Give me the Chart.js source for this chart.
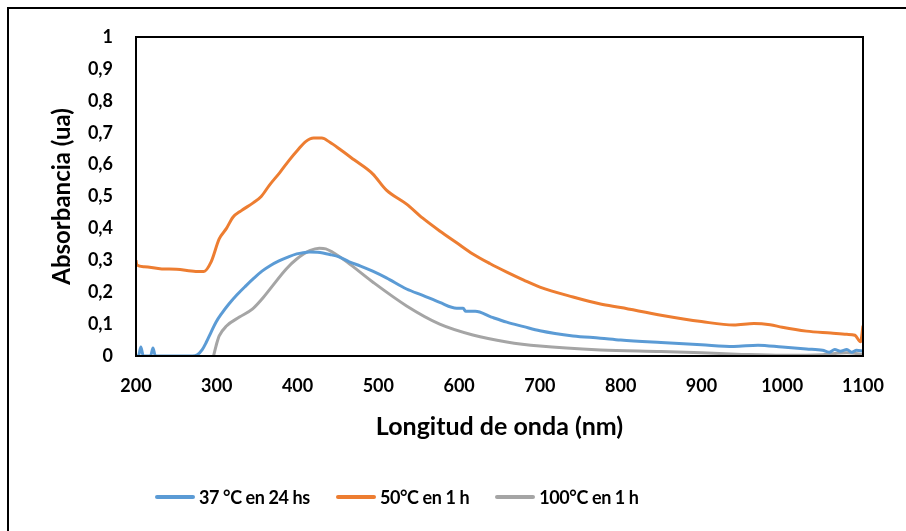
<!DOCTYPE html>
<html>
<head>
<meta charset="utf-8">
<script src="https://cdn.jsdelivr.net/npm/chart.js@4.4.1/dist/chart.umd.min.js"></script>
<style>
    html, body { margin: 0; padding: 0; background: #fff; overflow: hidden; }
    #wrap { position: relative; width: 906px; height: 531px; }
    #frame { position: absolute; left: 7px; top: 7px; width: 1000px; height: 1000px; border: 2px solid #000; box-sizing: border-box; }
    #chart { position: absolute; left: 0; top: 0; }
    #legend { position: absolute; left: 155px; top: 486px; display: flex; align-items: center; font: bold 18px Lato, sans-serif; letter-spacing: -0.4px; color: #000; }
    .item { display: flex; align-items: center; margin-right: 26px; }
    .swatch { width: 40px; height: 4px; border-radius: 2px; margin-right: 4px; }
</style>
</head>
<body>
<div id="wrap">
    <div id="frame"></div>
    <canvas id="chart" width="906" height="531"></canvas>
    <div id="legend"></div>
</div>
<script>
// Series names and colours
const seriesNames = ['37 °C en 24 hs', '50°C en 1 h', '100°C en 1 h'];
const seriesColors = ['#5B9BD5', '#ED7D31', '#A5A5A5'];

// 37 °C en 24 hs
const wl37 = [200, 203, 206, 209, 212, 218, 221, 224, 230, 250, 270, 276, 282, 287, 293, 299, 306, 315, 325, 336, 346, 356, 366, 377, 388, 399, 407, 415, 425, 440, 452, 464, 478, 493, 510, 535, 555, 576, 597, 605, 608, 620, 640, 659, 680, 700, 741, 775, 800, 850, 900, 940, 970, 1000, 1030, 1050, 1058, 1065, 1072, 1080, 1086, 1092, 1100];
const abs37 = [0, 0, 0.028, 0, 0, 0, 0.025, 0, 0, 0, 0, 0.004, 0.02, 0.043, 0.075, 0.106, 0.133, 0.163, 0.192, 0.22, 0.244, 0.266, 0.283, 0.298, 0.31, 0.32, 0.324, 0.326, 0.325, 0.318, 0.31, 0.295, 0.282, 0.266, 0.245, 0.21, 0.19, 0.168, 0.15, 0.15, 0.14, 0.14, 0.122, 0.106, 0.092, 0.079, 0.063, 0.056, 0.05, 0.042, 0.035, 0.03, 0.034, 0.028, 0.022, 0.018, 0.012, 0.02, 0.015, 0.02, 0.012, 0.018, 0.015];

// 50°C en 1 h
const wl50 = [200, 201, 210, 232, 250, 274, 284, 293, 303, 312, 320, 330, 345, 355, 365, 378, 390, 400, 410, 420, 430, 440, 452, 470, 493, 510, 535, 555, 576, 597, 617, 638, 659, 680, 700, 741, 775, 800, 850, 900, 940, 965, 985, 1000, 1030, 1060, 1080, 1090, 1097, 1100];
const abs50 = [0.3, 0.285, 0.28, 0.273, 0.272, 0.265, 0.265, 0.295, 0.367, 0.4, 0.435, 0.455, 0.48, 0.5, 0.535, 0.575, 0.615, 0.645, 0.672, 0.683, 0.683, 0.67, 0.649, 0.615, 0.571, 0.52, 0.476, 0.432, 0.392, 0.355, 0.32, 0.29, 0.263, 0.238, 0.216, 0.185, 0.163, 0.152, 0.128, 0.108, 0.097, 0.102, 0.098, 0.09, 0.078, 0.072, 0.068, 0.065, 0.045, 0.095];

// 100°C en 1 h
const wl100 = [296, 300, 303, 312, 328, 344, 356, 369, 386, 399, 415, 427, 435, 443, 461, 493, 535, 576, 617, 659, 700, 775, 850, 900, 950, 1000, 1050, 1080, 1100];
const abs100 = [0, 0.04, 0.063, 0.094, 0.122, 0.147, 0.179, 0.22, 0.273, 0.304, 0.33, 0.338, 0.336, 0.326, 0.295, 0.232, 0.157, 0.1, 0.066, 0.044, 0.031, 0.019, 0.014, 0.01, 0.005, 0.002, 0.004, 0.01, 0.005];

// Axis ticks
const xTickLabels = ['200', '300', '400', '500', '600', '700', '800', '900', '1000', '1100'];
const yTickLabels = ['0', '0,1', '0,2', '0,3', '0,4', '0,5', '0,6', '0,7', '0,8', '0,9', '1'];

const tickFont = { family: 'Lato, sans-serif', size: 18, weight: 'bold', lineHeight: 1.2 };
const yTitleFont = { family: 'Lato, sans-serif', size: 24, weight: 'bold', lineHeight: 1.2 };
const xTitleFont = { family: 'Lato, sans-serif', size: 25, weight: 'bold', lineHeight: 1.2 };

function toPoints(xs, ys) {
    return xs.map((x, i) => ({ x: x, y: ys[i] }));
}

const allX = [wl37, wl50, wl100];
const allY = [abs37, abs50, abs100];

const datasets = seriesNames.map((name, i) => ({
    label: name,
    data: toPoints(allX[i], allY[i]),
    borderColor: seriesColors[i],
    backgroundColor: seriesColors[i],
    borderWidth: 3,
    pointRadius: 0,
    fill: false,
    cubicInterpolationMode: 'monotone'
}));

// plot area frame
const frameBox = {
    id: 'frameBox',
    afterDatasetsDraw(chart) {
        const a = chart.chartArea;
        const ctx = chart.ctx;
        ctx.save();
        ctx.strokeStyle = '#000';
        ctx.lineWidth = 2;
        ctx.strokeRect(a.left, a.top, a.right - a.left, a.bottom - a.top);
        ctx.restore();
    }
};

new Chart(document.getElementById('chart').getContext('2d'), {
    type: 'line',
    data: { datasets: datasets },
    options: {
        responsive: false,
        animation: false,
        layout: { padding: { left: 48, top: 37, right: 43, bottom: 89 } },
        plugins: {
            legend: { display: false },
            tooltip: { enabled: false }
        },
        scales: {
            x: {
                type: 'linear',
                min: 200,
                max: 1100,
                grid: { display: false, drawTicks: false },
                border: { display: false },
                ticks: {
                    stepSize: 100,
                    padding: 19,
                    color: '#000',
                    font: tickFont,
                    maxRotation: 0,
                    callback: (v, i) => xTickLabels[i]
                },
                title: {
                    display: true,
                    text: 'Longitud de onda (nm)',
                    color: '#000',
                    font: xTitleFont,
                    padding: 0
                },
                afterFit: (scale) => { scale.height = 86; }
            },
            y: {
                min: 0,
                max: 1,
                grid: { display: false, drawTicks: false },
                border: { display: false },
                ticks: {
                    stepSize: 0.1,
                    padding: 23,
                    color: '#000',
                    font: tickFont,
                    callback: (v, i) => yTickLabels[i]
                },
                title: {
                    display: true,
                    text: 'Absorbancia (ua)',
                    color: '#000',
                    font: yTitleFont,
                    padding: 0
                },
                afterFit: (scale) => { scale.width = 88; }
            }
        }
    },
    plugins: [frameBox]
});

// legend below the chart
const legendEl = document.getElementById('legend');
seriesNames.forEach((name, i) => {
    const item = document.createElement('div');
    item.className = 'item';
    const sw = document.createElement('span');
    sw.className = 'swatch';
    sw.style.background = seriesColors[i];
    const txt = document.createElement('span');
    txt.textContent = name;
    item.appendChild(sw);
    item.appendChild(txt);
    legendEl.appendChild(item);
});
</script>
</body>
</html>
